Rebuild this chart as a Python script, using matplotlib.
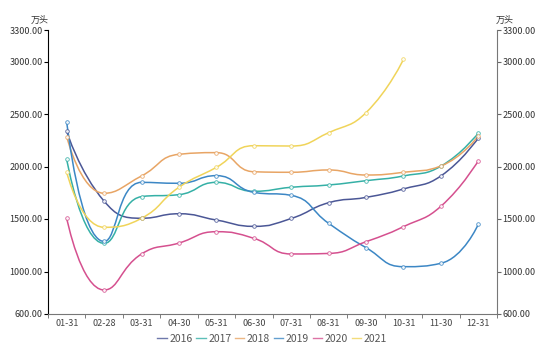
import numpy as np
import matplotlib
matplotlib.use('Agg')
import matplotlib.pyplot as plt
from matplotlib.path import Path
from matplotlib.patches import PathPatch
from matplotlib.lines import Line2D

plt.rcParams['font.family'] = ['Noto Sans CJK SC', 'DejaVu Sans']

# 数据（万头）
months = ['01-31', '02-28', '03-31', '04-30', '05-31', '06-30',
          '07-31', '08-31', '09-30', '10-31', '11-30', '12-31']
v2016 = [2335, 1670, 1507, 1550, 1490, 1430, 1505, 1655, 1706, 1786, 1910, 2272]
v2017 = [2069, 1268, 1713, 1732, 1849, 1764, 1802, 1824, 1865, 1910, 2003, 2318]
v2018 = [2284, 1745, 1910, 2116, 2132, 1950, 1945, 1967, 1919, 1945, 2005, 2290]
v2019 = [2427, 1286, 1849, 1840, 1913, 1754, 1725, 1459, 1227, 1046, 1078, 1449]
v2020 = [1507, 824, 1167, 1271, 1379, 1316, 1167, 1172, 1284, 1427, 1621, 2055]
v2021 = [1945, 1421, 1507, 1802, 1992, 2198, 2195, 2322, 2513, 3020]
years = ['2016', '2017', '2018', '2019', '2020', '2021']
series = [v2016, v2017, v2018, v2019, v2020, v2021]
colors = ['#4b5796', '#35b0a6', '#e8a565', '#3c87c5', '#d5508f', '#f0d45a']
yticks = [600, 1000, 1500, 2000, 2500, 3000, 3300]

# 像素比例，用于模仿 echarts 的平滑曲线
PX_X = 37.4
PX_Y = 0.105
SMOOTH = 0.5


def smooth_path(xs, ys):
    """按 echarts 的方式生成贝塞尔平滑路径（在像素空间计算控制点）"""
    px = [x * PX_X for x in xs]
    py = [y * PX_Y for y in ys]
    n = len(px)
    prev_cp = [(px[i], py[i]) for i in range(n)]
    next_cp = [(px[i], py[i]) for i in range(n)]
    for i in range(1, n - 1):
        x, y = px[i], py[i]
        x0, y0 = px[i - 1], py[i - 1]
        x1, y1 = px[i + 1], py[i + 1]
        vx, vy = x1 - x0, y1 - y0
        l0 = np.hypot(x - x0, y - y0)
        l1 = np.hypot(x1 - x, y1 - y)
        r = l1 / (l0 + l1)
        ncx = x + vx * SMOOTH * r
        ncy = y + vy * SMOOTH * r
        ncx = min(max(ncx, min(x1, x)), max(x1, x))
        ncy = min(max(ncy, min(y1, y)), max(y1, y))
        vx, vy = ncx - x, ncy - y
        pcx = x - vx * l0 / l1
        pcy = y - vy * l0 / l1
        pcx = min(max(pcx, min(x0, x)), max(x0, x))
        pcy = min(max(pcy, min(y0, y)), max(y0, y))
        vx, vy = x - pcx, y - pcy
        ncx = x + vx * l1 / l0
        ncy = y + vy * l1 / l0
        prev_cp[i] = (pcx, pcy)
        next_cp[i] = (ncx, ncy)
    verts = [(px[0], py[0])]
    codes = [Path.MOVETO]
    for i in range(1, n):
        verts += [next_cp[i - 1], prev_cp[i], (px[i], py[i])]
        codes += [Path.CURVE4] * 3
    verts = [(vx_ / PX_X, vy_ / PX_Y) for vx_, vy_ in verts]
    return Path(verts, codes)


fig = plt.figure(figsize=(5.5, 3.57), dpi=100)
ax = fig.add_axes([48 / 550, 1 - 313.5 / 357, 449 / 550, 283.5 / 357])

for name, vals, c in zip(years, series, colors):
    xs = list(range(len(vals)))
    ax.add_patch(PathPatch(smooth_path(xs, vals), facecolor='none',
                           edgecolor=c, lw=1.1, zorder=2))
    ax.plot(xs, vals, ls='none', marker='o', ms=2.6, mfc='white',
            mec=c, mew=0.6, alpha=0.9, zorder=3)

ax.set_xlim(-0.5, 11.5)
ax.set_ylim(600, 3300)
ax.set_yticks(yticks)
ax.set_yticklabels([f'{t:.2f}' for t in yticks], fontsize=6.5, color='#333333')
ax.set_xticks(range(12))
ax.set_xticklabels(months, fontsize=6.5, color='#444444')
ax.set_xticks(np.arange(-0.5, 12, 1), minor=True)
ax.tick_params(axis='x', which='major', length=0, pad=4)
ax.tick_params(axis='x', which='minor', length=3, color='#666666')
ax.tick_params(axis='y', length=3, width=0.8, pad=1)

ax.spines['top'].set_visible(False)
ax.spines['right'].set_visible(False)
ax.spines['left'].set_color('#000000')
ax.spines['bottom'].set_color('#777777')

ax2 = ax.twinx()
ax2.set_ylim(600, 3300)
ax2.set_yticks(yticks)
ax2.set_yticklabels([f'{t:.2f}' for t in yticks], fontsize=6.5, color='#333333')
ax2.tick_params(axis='y', length=3, width=0.8, color='#666666', pad=1)
for s in ['top', 'left', 'bottom']:
    ax2.spines[s].set_visible(False)
ax2.spines['right'].set_color('#777777')

fig.text(40 / 550, 1 - 20 / 357, '万头', fontsize=6.5, ha='center', va='center', color='#333333')
fig.text(505 / 550, 1 - 20 / 357, '万头', fontsize=6.5, ha='center', va='center', color='#333333')

handles = [Line2D([0], [0], color=c, lw=1.0, alpha=0.8) for c in colors]
fig.legend(handles, years, loc='center', bbox_to_anchor=(272 / 550, 1 - 339 / 357),
           ncol=6, frameon=False, fontsize=7.5, handlelength=0.9,
           handletextpad=0.25, columnspacing=0.35, labelcolor='#555555')

fig.savefig('out.png', dpi=100, facecolor='white')
